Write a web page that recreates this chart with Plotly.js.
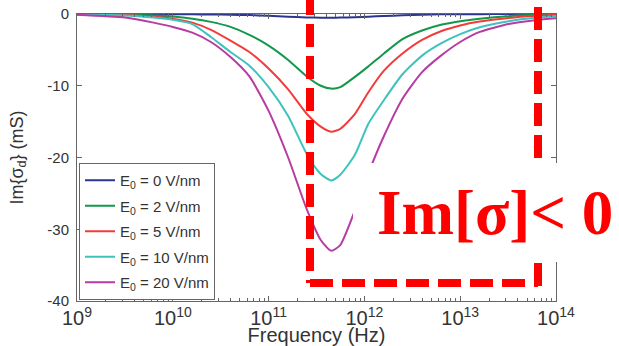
<!DOCTYPE html>
<html>
<head>
<meta charset="utf-8">
<script src="https://cdn.plot.ly/plotly-3.0.1.min.js"></script>
<style>html,body{margin:0;padding:0;background:#fff;}#chart{width:619px;height:346px;}</style>
</head>
<body>
<div id="chart"></div>
<script>
// Frequency points (Hz)
const freq = [1e9, 3.2e9, 6.3e9, 1e10, 1.6e10, 2.5e10, 4e10, 6.3e10, 1e11, 1.6e11, 2.5e11, 3.5e11, 4.5e11, 5.6e11, 7.9e11, 1.1e12, 1.6e12, 2.5e12, 4e12, 6.3e12, 1e13, 1.6e13, 3.2e13, 6.3e13, 1e14];
// Im{sigma_d} (mS) for each field strength
const e0_0  = [0, 0, -0.02, -0.03, -0.05, -0.07, -0.1, -0.15, -0.25, -0.38, -0.48, -0.52, -0.53, -0.5, -0.45, -0.38, -0.28, -0.18, -0.1, -0.05, -0.03, -0.02, -0.01, 0, 0];
const e0_2  = [-0.02, -0.08, -0.2, -0.35, -0.65, -1.1, -1.8, -2.9, -4.4, -6.4, -8.7, -10.0, -10.4, -10.2, -8.8, -7.3, -5.5, -3.5, -2.3, -1.5, -1.0, -0.65, -0.3, -0.12, -0.05];
const e0_5  = [-0.03, -0.15, -0.4, -0.65, -1.2, -2.2, -3.7, -5.3, -7.6, -10.5, -13.9, -15.7, -16.4, -16.0, -14.0, -10.9, -7.9, -5.5, -3.6, -2.4, -1.6, -1.05, -0.55, -0.25, -0.12];
const e0_10 = [-0.05, -0.2, -0.5, -0.8, -1.4, -3.2, -5.3, -7.2, -10.2, -14.2, -19.5, -22.3, -23.2, -22.4, -19.7, -15.3, -12.0, -8.4, -5.8, -4.1, -2.8, -1.85, -1.0, -0.5, -0.3];
const e0_20 = [-0.1, -0.5, -1.2, -1.8, -2.6, -3.9, -6.0, -8.7, -13.5, -20.0, -27.2, -31.5, -33.0, -32.2, -27.5, -22.2, -17.0, -11.8, -8.1, -5.8, -3.9, -2.5, -1.4, -0.85, -0.6];

const seriesNames = ['E<sub>0</sub> = 0 V/nm', 'E<sub>0</sub> = 2 V/nm', 'E<sub>0</sub> = 5 V/nm', 'E<sub>0</sub> = 10 V/nm', 'E<sub>0</sub> = 20 V/nm'];
const seriesColors = ['#2b3590', '#13984a', '#f23c3c', '#3ec3bc', '#b83ba2'];
const seriesValues = [e0_0, e0_2, e0_5, e0_10, e0_20];

const yTickVals = [0, -10, -20, -30, -40];
const yTickText = ['0', '-10', '-20', '-30', '-40'];

const xTitle = 'Frequency (Hz)';
const yTitle = 'Im{σ<sub>d</sub>} (mS)';
const noteText = 'Im[σ]&lt; 0';

const traces = seriesValues.map((v, i) => ({
  x: freq, y: v, type: 'scatter', mode: 'lines',
  name: seriesNames[i], legendgroup: 'g' + i,
  line: {color: seriesColors[i], width: 2, shape: 'spline', smoothing: 0.6}
}));

// pixel helpers -> paper coords (plot area 77..556 x, 14..301 y)
const L = 77, R = 556, T = 14, B = 301;
const px = x => (x - L) / (R - L);
const py = y => (B - y) / (B - T);

const dash = '23px,9px';
const red = '#ff0000';

const layout = {
  width: 619, height: 346,
  margin: {l: L, r: 619 - R, t: T, b: 346 - B},
  paper_bgcolor: '#fff', plot_bgcolor: '#fff',
  font: {family: 'Liberation Sans, Arial, sans-serif', color: '#333'},
  showlegend: true,
  legend: {
    x: px(79), y: py(300), xanchor: 'left', yanchor: 'bottom',
    bgcolor: '#fff', bordercolor: '#666', borderwidth: 1,
    font: {size: 15, color: '#333'}, itemwidth: 30,
    traceorder: 'grouped', tracegroupgap: 3
  },
  xaxis: {
    type: 'log', range: [9, 14], dtick: 1, exponentformat: 'power',
    showgrid: false, zeroline: false, showline: true, linecolor: '#666', linewidth: 1,
    mirror: 'ticks', ticks: 'inside', ticklen: 5, tickcolor: '#666',
    tickfont: {size: 16, color: '#333'},
    minor: {ticks: 'inside', ticklen: 3, tickcolor: '#666', dtick: 'D1', showgrid: false},
    title: {text: xTitle, font: {size: 20, color: '#333'}, standoff: 5}
  },
  yaxis: {
    range: [-40, 0], tickmode: 'array', tickvals: yTickVals, ticktext: yTickText,
    showgrid: false, zeroline: false, showline: true, linecolor: '#666', linewidth: 1,
    mirror: 'ticks', ticks: 'inside', ticklen: 5, tickcolor: '#666',
    tickfont: {size: 15, color: '#333'}, ticklabelstandoff: 4,
    title: {text: yTitle, font: {size: 18, color: '#333'}, standoff: 19}
  },
  shapes: [
    {type: 'line', xref: 'paper', yref: 'paper', layer: 'above',
     x0: px(310), x1: px(310), y0: py(-8), y1: py(283),
     line: {color: red, width: 8, dash: dash}},
    {type: 'line', xref: 'paper', yref: 'paper', layer: 'above',
     x0: px(538), x1: px(538), y0: py(7), y1: py(287),
     line: {color: red, width: 8, dash: dash}},
    {type: 'line', xref: 'paper', yref: 'paper', layer: 'above',
     x0: px(310), x1: px(538), y0: py(283), y1: py(283),
     line: {color: red, width: 8, dash: dash}},
    {type: 'rect', xref: 'paper', yref: 'paper', layer: 'above',
     x0: px(353), x1: px(625), y0: py(262), y1: py(163),
     fillcolor: '#fff', line: {width: 0}}
  ],
  annotations: [
    {xref: 'paper', yref: 'paper', x: px(495), y: py(213), xanchor: 'center', yanchor: 'middle',
     text: '<b>' + noteText + '</b>', showarrow: false,
     font: {family: 'Liberation Serif, Times New Roman, serif', size: 63, color: red, weight: 'bold'}}
  ]
};

Plotly.newPlot('chart', traces, layout, {staticPlot: true, displayModeBar: false});
</script>
</body>
</html>
